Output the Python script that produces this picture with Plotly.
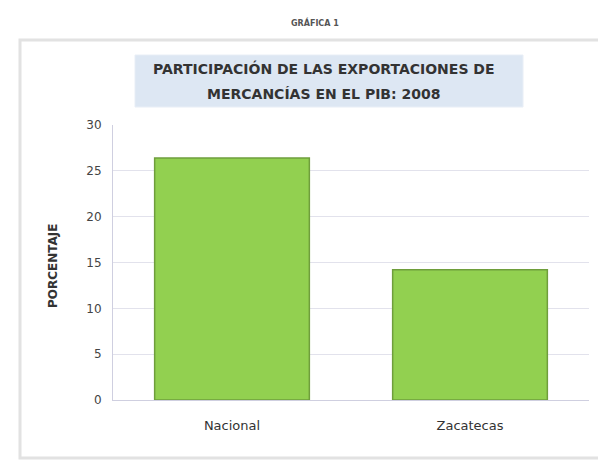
import plotly.graph_objects as go

categories = ["Nacional", "Zacatecas"]
values = [26.4, 14.2]
y_ticks = [0, 5, 10, 15, 20, 25, 30]

OFF = 8  # page body margin
W, H = 606 - OFF, 466 - OFF
# plot area in screen px: x 113..589, y 125..400
L, R, T, B = 113 - OFF, W - (589 - OFF), 125 - OFF, H - (400 - OFF)
pw, ph = W - L - R, H - T - B

def px(x):
    return (x - OFF - L) / pw

def py(y):
    return (H - B - (y - OFF)) / ph

fig = go.Figure()
fig.add_trace(go.Bar(
    x=categories, y=values, width=0.65,
    marker=dict(color="#92d050", line=dict(color="#6f9e3c", width=1.5)),
))

fig.update_layout(
    width=W, height=H,
    margin=dict(l=L, r=R, t=T, b=B),
    paper_bgcolor="white", plot_bgcolor="white",
    showlegend=False,
    font=dict(family="DejaVu Sans, Liberation Sans, Arial", size=12, color="#333333"),
    xaxis=dict(showline=True, linecolor="#cfcfe0", tickfont=dict(size=13, color="#333333"),
               ticks="", showgrid=False, ticklabelstandoff=13),
    yaxis=dict(range=[0, 30], tickvals=y_ticks, showgrid=True, gridcolor="#e2e2ec",
               gridwidth=1, showline=True, linecolor="#cfcfe0", ticks="",
               tickfont=dict(size=12, color="#444444"), zeroline=False,
               ticklabelstandoff=8),
    shapes=[
        dict(type="rect", xref="paper", yref="paper", x0=px(20), x1=px(603), y0=py(458), y1=py(40),
             line=dict(color="#e2e2e2", width=3), fillcolor="rgba(0,0,0,0)", layer="below"),
        dict(type="rect", xref="paper", yref="paper", x0=px(135), x1=px(523), y0=py(107), y1=py(55),
             line=dict(color="#e8eef6", width=1), fillcolor="#dde7f3", layer="below"),
    ],
    annotations=[
        dict(text="<b>GRÁFICA 1</b>", xref="paper", yref="paper", x=px(315), y=py(22),
             xanchor="center", yanchor="middle",
             showarrow=False, font=dict(size=8, color="#555555")),
        dict(text="<b>PARTICIPACIÓN DE LAS EXPORTACIONES DE</b>",
             xref="paper", yref="paper", x=px(324), y=py(68), xanchor="center", yanchor="middle",
             showarrow=False, font=dict(size=14, color="#333333")),
        dict(text="<b>MERCANCÍAS EN EL PIB: 2008</b>",
             xref="paper", yref="paper", x=px(323), y=py(94), xanchor="center", yanchor="middle",
             showarrow=False, font=dict(size=14, color="#333333")),
        dict(text="<b>PORCENTAJE</b>", xref="paper", yref="paper", x=px(53), y=py(266),
             xanchor="center", yanchor="middle", textangle=-90,
             showarrow=False, font=dict(size=12, color="#333333")),
    ],
)

fig.write_html("out.html")
